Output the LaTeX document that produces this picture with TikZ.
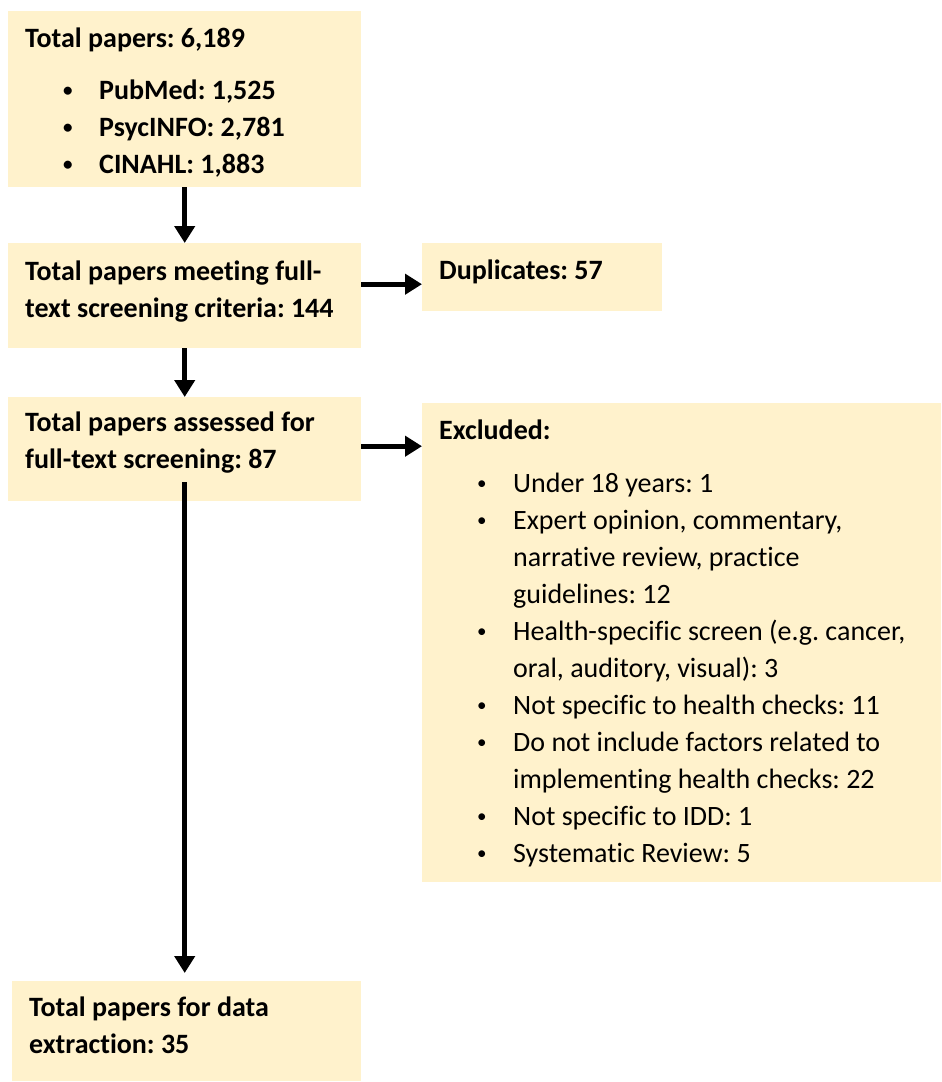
\documentclass[tikz,border=0pt]{standalone}
\usepackage{fontspec}
\setmainfont{Carlito}[Ligatures=NoCommon]
\usetikzlibrary{arrows.meta}
\definecolor{boxfill}{HTML}{FFF2CC}
% box text: width, height, top gap, lines
\newcommand{\boxtext}[4]{\parbox[c][#2][t]{#1}{\fontsize{28}{37}\selectfont\frenchspacing\raggedright\leftskip=17pt\vspace*{#3}\strut#4}}
\newcommand{\bitem}[1]{\hspace*{38pt}\makebox[36pt][l]{\raisebox{2.7pt}{\fontsize{19}{19}\selectfont\textbullet}}#1}
\newcommand{\bcont}[1]{\hspace*{74pt}#1}

\begin{document}
\begin{tikzpicture}[x=1pt,y=-1pt,
    box/.style={fill=boxfill, inner sep=0pt, anchor=north west},
    arrow/.style={line width=5pt, -{Triangle[width=20pt,length=17pt]}}]
    \useasboundingbox (0,0) rectangle (942,1082);

    \node[box] (total) at (8,11) {\boxtext{353pt}{176pt}{10pt}{\bfseries Total papers: 6,189\\[15pt]
        \bitem{PubMed: 1,525}\\ \bitem{PsycINFO: 2,781}\\ \bitem{CINAHL: 1,883}}};
    \node[box] (meeting) at (8,243) {\boxtext{353pt}{105pt}{11pt}{\bfseries Total papers meeting full-\\ text screening criteria: 144}};
    \node[box] (dup) at (422,243) {\boxtext{240pt}{68pt}{10pt}{\bfseries Duplicates: 57}};
    \node[box] (assessed) at (8,397) {\boxtext{353pt}{104pt}{8pt}{\bfseries Total papers assessed for\\ full-text screening: 87}};
    \node[box] (excluded) at (422,403) {\boxtext{519pt}{479pt}{10pt}{{\bfseries Excluded:}\\[16pt]
        \bitem{Under 18 years: 1}\\
        \bitem{Expert opinion, commentary,}\\ \bcont{narrative review, practice}\\ \bcont{guidelines: 12}\\
        \bitem{Health-specific screen (e.g. cancer,}\\ \bcont{oral, auditory, visual): 3}\\
        \bitem{Not specific to health checks: 11}\\
        \bitem{Do not include factors related to}\\ \bcont{implementing health checks: 22}\\
        \bitem{Not specific to IDD: 1}\\
        \bitem{Systematic Review: 5}}};
    \node[box] (extraction) at (12,981) {\boxtext{349pt}{100pt}{9pt}{\bfseries Total papers for data\\ extraction: 35}};

    \draw[arrow] (total) -- (meeting);
    \draw[arrow] (meeting) -- (assessed);
    \draw[arrow] ([yshift=19pt]assessed.south) -- (assessed.south |- extraction.north) [shorten >=8pt];
    \draw[arrow] ([yshift=11.5pt]meeting.east) -- ([yshift=11.5pt]meeting.east -| dup.west);
    \draw[arrow] ([yshift=3pt]assessed.east) -- ([yshift=3pt]assessed.east -| excluded.west);
\end{tikzpicture}
\end{document}
